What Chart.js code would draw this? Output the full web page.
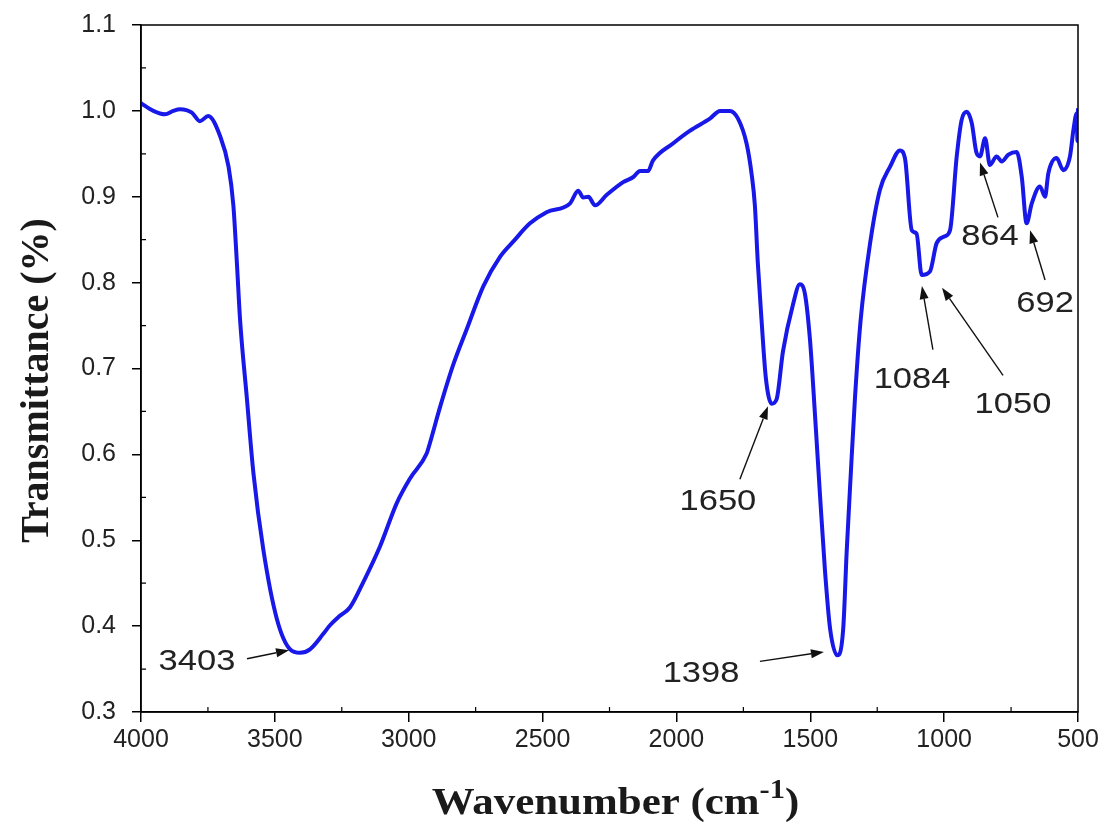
<!DOCTYPE html>
<html lang="en">
  <head>
    <meta charset="utf-8">
    <title>FTIR Spectrum</title>
    <style>
      html, body {
        margin: 0;
        padding: 0;
        background: #fff;
      }
      #wrapper {
        width: 1104px;
        height: 822px;
      }
      canvas {
        display: block;
      }
    </style>
  </head>
  <body>
    <div id="wrapper">
      <canvas id="canvas" width="1104" height="822"></canvas>
    </div>

    <script src="https://cdn.jsdelivr.net/npm/chart.js"></script>
    <script>
      // wavenumber (cm-1) and transmittance
      let wavenumber = [
        4000, 3954, 3910, 3880, 3854, 3810, 3780, 3749, 3705, 3673,
        3655, 3642, 3630, 3605, 3580, 3543, 3493, 3443, 3406, 3369,
        3319, 3294, 3257, 3219, 3170, 3107, 3045, 2995, 2933, 2921,
        2883, 2833, 2783, 2721, 2659, 2609, 2547, 2485, 2398, 2367,
        2348, 2329, 2304, 2261, 2199, 2161, 2136, 2106, 2088, 2013,
        1949, 1875, 1837, 1800, 1770, 1738, 1719, 1707, 1696, 1682,
        1666, 1644, 1626, 1602, 1565, 1539, 1520, 1501, 1482, 1464,
        1445, 1426, 1399, 1377, 1364, 1349, 1333, 1312, 1277, 1240,
        1202, 1165, 1146, 1121, 1103, 1084, 1053, 1028, 997, 978,
        953, 935, 916, 897, 879, 866, 847, 829, 804, 785,
        760, 729, 710, 692, 673, 642, 623, 611, 580, 555,
        530, 517, 505, 502, 500
      ];
      let transmittance = [
        1.009, 1.000, 0.996, 1.000, 1.002, 0.998, 0.988, 0.994, 0.971, 0.935,
        0.890, 0.824, 0.757, 0.667, 0.578, 0.489, 0.409, 0.373, 0.369, 0.373,
        0.391, 0.401, 0.412, 0.422, 0.451, 0.493, 0.543, 0.572, 0.601, 0.613,
        0.655, 0.705, 0.746, 0.796, 0.830, 0.848, 0.869, 0.882, 0.892, 0.907,
        0.899, 0.900, 0.890, 0.902, 0.917, 0.923, 0.930, 0.930, 0.942, 0.962,
        0.977, 0.991, 1.000, 1.000, 0.991, 0.962, 0.926, 0.890, 0.823, 0.756,
        0.689, 0.659, 0.664, 0.720, 0.774, 0.798, 0.787, 0.733, 0.644, 0.554,
        0.464, 0.397, 0.366, 0.397, 0.487, 0.576, 0.666, 0.756, 0.845, 0.908,
        0.935, 0.954, 0.944, 0.861, 0.857, 0.809, 0.813, 0.846, 0.854, 0.861,
        0.947, 0.989, 0.999, 0.986, 0.951, 0.947, 0.968, 0.937, 0.947, 0.941,
        0.949, 0.952, 0.923, 0.869, 0.892, 0.912, 0.900, 0.927, 0.945, 0.931,
        0.947, 0.978, 0.997, 0.965, 1.003
      ];

      // peak labels: text, label centre and arrow (from -> to), in data units
      let noteText  = ['3403', '1398', '1650', '1084', '1050', '864', '692'];
      let noteLabel = [[3791, 0.359], [1908, 0.345], [1845, 0.545], [1120, 0.687], [743, 0.658], [829, 0.853], [623, 0.775]];
      let noteFrom  = [[3604, 0.362], [1688, 0.359], [1763, 0.571], [1042, 0.722], [780, 0.692], [799, 0.876], [623, 0.803]];
      let noteTo    = [[3447, 0.372], [1449, 0.370], [1658, 0.656], [1083, 0.796], [1008, 0.794], [866, 0.940], [679, 0.861]];

      let yMinor = [0.35, 0.45, 0.55, 0.65, 0.75, 0.85, 0.95, 1.05];
      let xMinor = [3750, 3250, 2750, 2250, 1750, 1250, 750];

      let points = [];
      for (let i = 0; i < wavenumber.length; i++) {
        points.push({x: wavenumber[i], y: transmittance[i]});
      }

      function stretchText(ctx, text, x, y, sx) {
        ctx.save();
        ctx.translate(x, y);
        ctx.scale(sx, 1);
        ctx.fillText(text, 0, 0);
        ctx.restore();
      }

      let extras = {
        id: 'extras',
        afterDraw(chart) {
          let ctx = chart.ctx;
          let a = chart.chartArea;
          let xs = chart.scales.x;
          let ys = chart.scales.y;

          // frame
          ctx.save();
          ctx.strokeStyle = '#000';
          ctx.lineWidth = 1.5;
          ctx.strokeRect(a.left, a.top, a.right - a.left, a.bottom - a.top);

          // minor ticks, inside
          ctx.lineWidth = 1.2;
          ctx.beginPath();
          yMinor.forEach(v => {
            let py = ys.getPixelForValue(v);
            ctx.moveTo(a.left, py);
            ctx.lineTo(a.left + 5, py);
          });
          xMinor.forEach(v => {
            let px = xs.getPixelForValue(v);
            ctx.moveTo(px, a.bottom);
            ctx.lineTo(px, a.bottom - 5);
          });
          ctx.stroke();

          // annotations
          ctx.fillStyle = '#222';
          ctx.strokeStyle = '#111';
          ctx.font = '30px "Liberation Sans", Arial, sans-serif';
          ctx.textAlign = 'center';
          ctx.textBaseline = 'middle';
          for (let i = 0; i < noteText.length; i++) {
            let lx = xs.getPixelForValue(noteLabel[i][0]);
            let ly = ys.getPixelForValue(noteLabel[i][1]);
            stretchText(ctx, noteText[i], lx, ly, 1.15);

            let x0 = xs.getPixelForValue(noteFrom[i][0]);
            let y0 = ys.getPixelForValue(noteFrom[i][1]);
            let x1 = xs.getPixelForValue(noteTo[i][0]);
            let y1 = ys.getPixelForValue(noteTo[i][1]);
            let ang = Math.atan2(y1 - y0, x1 - x0);
            let hl = 13, hw = 4.5;
            ctx.lineWidth = 1.4;
            ctx.beginPath();
            ctx.moveTo(x0, y0);
            ctx.lineTo(x1 - Math.cos(ang) * hl, y1 - Math.sin(ang) * hl);
            ctx.stroke();
            ctx.beginPath();
            ctx.moveTo(x1, y1);
            ctx.lineTo(x1 - Math.cos(ang) * hl - Math.sin(ang) * hw, y1 - Math.sin(ang) * hl + Math.cos(ang) * hw);
            ctx.lineTo(x1 - Math.cos(ang) * hl + Math.sin(ang) * hw, y1 - Math.sin(ang) * hl - Math.cos(ang) * hw);
            ctx.closePath();
            ctx.fillStyle = '#111';
            ctx.fill();
            ctx.fillStyle = '#222';
          }

          // axis titles
          ctx.fillStyle = '#1a1a1a';
          ctx.font = 'bold 40px "Liberation Serif", "Times New Roman", serif';
          ctx.save();
          ctx.translate(38, (a.top + a.bottom) / 2 + 12);
          ctx.rotate(-Math.PI / 2);
          ctx.textAlign = 'center';
          ctx.textBaseline = 'middle';
          ctx.fillText('Transmittance (%)', 0, 0);
          ctx.restore();

          let big = 'bold 38px "Liberation Serif", "Times New Roman", serif';
          let small = 'bold 27px "Liberation Serif", "Times New Roman", serif';
          ctx.font = big;
          let w1 = ctx.measureText('Wavenumber (cm').width;
          let w3 = ctx.measureText(')').width;
          ctx.font = small;
          let w2 = ctx.measureText('-1').width;
          let sx = 1.13;
          let total = (w1 + w2 + w3) * sx;
          let cx = (a.left + a.right) / 2 + 6;
          let startX = cx - total / 2;
          let base = 814;
          ctx.save();
          ctx.translate(startX, base);
          ctx.scale(sx, 1);
          ctx.textAlign = 'left';
          ctx.textBaseline = 'alphabetic';
          ctx.font = big;
          ctx.fillText('Wavenumber (cm', 0, 0);
          ctx.font = small;
          ctx.fillText('-1', w1, -16);
          ctx.font = big;
          ctx.fillText(')', w1 + w2, 0);
          ctx.restore();

          ctx.restore();
        }
      };

      let tickFont = {family: '"Liberation Sans", Arial, sans-serif', size: 25};

      let options = {
        type: 'line',
        data: {
          datasets: [{
            label: 'FTIR',
            data: points,
            borderColor: 'rgb(24, 24, 232)',
            borderWidth: 4,
            pointRadius: 0,
            pointHoverRadius: 0,
            fill: false,
            cubicInterpolationMode: 'monotone'
          }]
        },
        options: {
          responsive: false,
          animation: false,
          events: [],
          layout: {padding: {top: 25, right: 26, left: 0, bottom: 0}},
          plugins: {
            legend: {display: false},
            tooltip: {enabled: false}
          },
          scales: {
            x: {
              type: 'linear',
              reverse: true,
              min: 500,
              max: 4000,
              ticks: {
                stepSize: 500,
                color: '#222',
                font: tickFont,
                padding: 3,
                maxRotation: 0,
                callback: v => v
              },
              grid: {drawOnChartArea: false, drawTicks: true, tickLength: 10, color: '#000', lineWidth: 1.5},
              border: {display: true, color: '#000', width: 1.5},
              afterFit: s => { s.height = 110; }
            },
            y: {
              min: 0.3,
              max: 1.1,
              ticks: {
                stepSize: 0.1,
                color: '#222',
                font: tickFont,
                padding: 16,
                callback: v => v.toFixed(1)
              },
              grid: {drawOnChartArea: false, drawTicks: true, tickLength: 9, color: '#000', lineWidth: 1.5},
              border: {display: true, color: '#000', width: 1.5},
              afterFit: s => { s.width = 141; s.paddingTop = 0; s.paddingBottom = 0; }
            }
          }
        },
        plugins: [extras]
      };

      let chart = new Chart(document.getElementById('canvas'), options);
    </script>
  </body>
</html>
